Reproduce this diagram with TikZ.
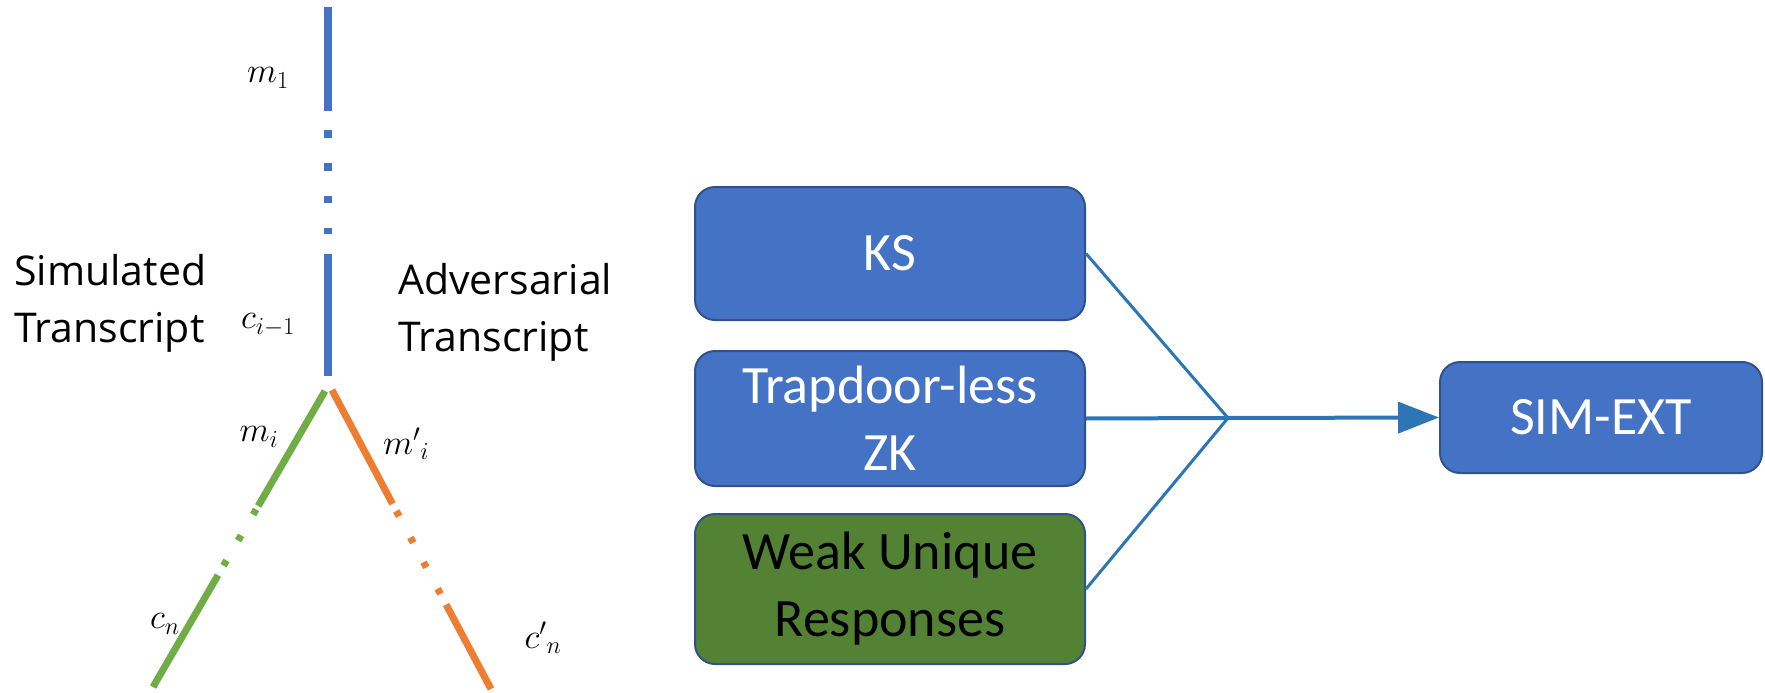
\RequirePackage{fix-cm}
\documentclass[tikz,border=0pt]{standalone}
\usepackage{fontspec}
\setmainfont{Carlito}
\newfontfamily\labelfont{Open Sans}
\usetikzlibrary{arrows.meta}

\definecolor{blueline}{HTML}{4472C4}
\definecolor{greenline}{HTML}{70AD47}
\definecolor{orangeline}{HTML}{ED7D31}
\definecolor{boxblue}{HTML}{4472C4}
\definecolor{boxgreen}{HTML}{548235}
\definecolor{boxedge}{HTML}{2F528F}
\definecolor{linkblue}{HTML}{2E75B6}

\tikzset{
  stage/.style={draw=boxedge, line width=2pt, rounded corners=20pt,
    inner sep=0pt, align=center, text=white,
    font=\fontsize{54}{67}\selectfont},
  sidetext/.style={inner sep=0pt, align=left, anchor=base west,
    font=\labelfont\fontsize{41}{57}\selectfont},
  msg/.style={inner sep=0pt, font=\fontsize{35}{42}\selectfont},
  branch/.style={line width=7pt},
  link/.style={draw=linkblue, line width=3pt},
}

\begin{document}
\begin{tikzpicture}[x=1pt, y=-1pt]
  \useasboundingbox (0,0) rectangle (1765,693);

  % transcript tree
  \coordinate (top) at (328,7);
  \coordinate (fork) at (328,376);
  \coordinate (gstart) at (325,391);
  \coordinate (gend) at (153,687);
  \coordinate (ostart) at (332,390);
  \coordinate (oend) at (491,689);

  \draw[blueline, line width=8pt,
    dash pattern=on 104pt off 19pt on 8pt off 25pt on 8pt off 25pt on 7pt off 25pt on 6pt off 20pt on 200pt]
    (top) -- (fork);
  \draw[greenline, branch,
    dash pattern=on 133pt off 4pt on 6pt off 24pt on 6pt off 23pt on 6pt off 11pt on 300pt]
    (gstart) -- (gend);
  \draw[orangeline, branch,
    dash pattern=on 129pt off 8pt on 6pt off 24pt on 6pt off 22pt on 6pt off 24pt on 6pt off 12pt on 300pt]
    (ostart) -- (oend);

  \node[msg] (m1) at (268,78) {$m_1$};
  \node[msg] (ci) at (268,325) {$c_{i-1}$};
  \node[msg] (mi) at (259,437) {$m_i$};
  \node[msg] (mpi) at (406,444) {${m'}_i$};
  \node[msg] (cn) at (165,624) {$c_n$};
  \node[msg] (cpn) at (543,638) {${c'}_n$};

  % the base anchor of a two-line node sits on its last line
  \node[sidetext] (sim) at (14,342) {Simulated\\Transcript};
  \node[sidetext] (adv) at (398,351) {Adversarial\\Transcript};

  % building blocks
  \node[stage, fill=boxblue, minimum width=390pt, minimum height=133pt] (ks) at (890,253.5) {KS};
  \node[stage, fill=boxblue, minimum width=390pt, minimum height=135pt] (zk) at (890,418.5) {Trapdoor-less\\ZK};
  \node[stage, fill=boxgreen, text=black, minimum width=390pt, minimum height=150pt] (wur) at (890,589) {Weak Unique\\Responses};
  \node[stage, fill=boxblue, minimum width=322pt, minimum height=111pt] (simext) at (1601,417.5) {SIM-EXT};

  \coordinate (join) at (1228,418);
  \draw[link] (ks.east) -- (join);
  \draw[link, line width=4pt] (zk.east) -- (join);
  \draw[link] (wur.east) -- (join);
  \draw[link, line width=4pt, -{Triangle[length=41pt, width=31pt]}] (join) -- (simext.west);
\end{tikzpicture}
\end{document}
